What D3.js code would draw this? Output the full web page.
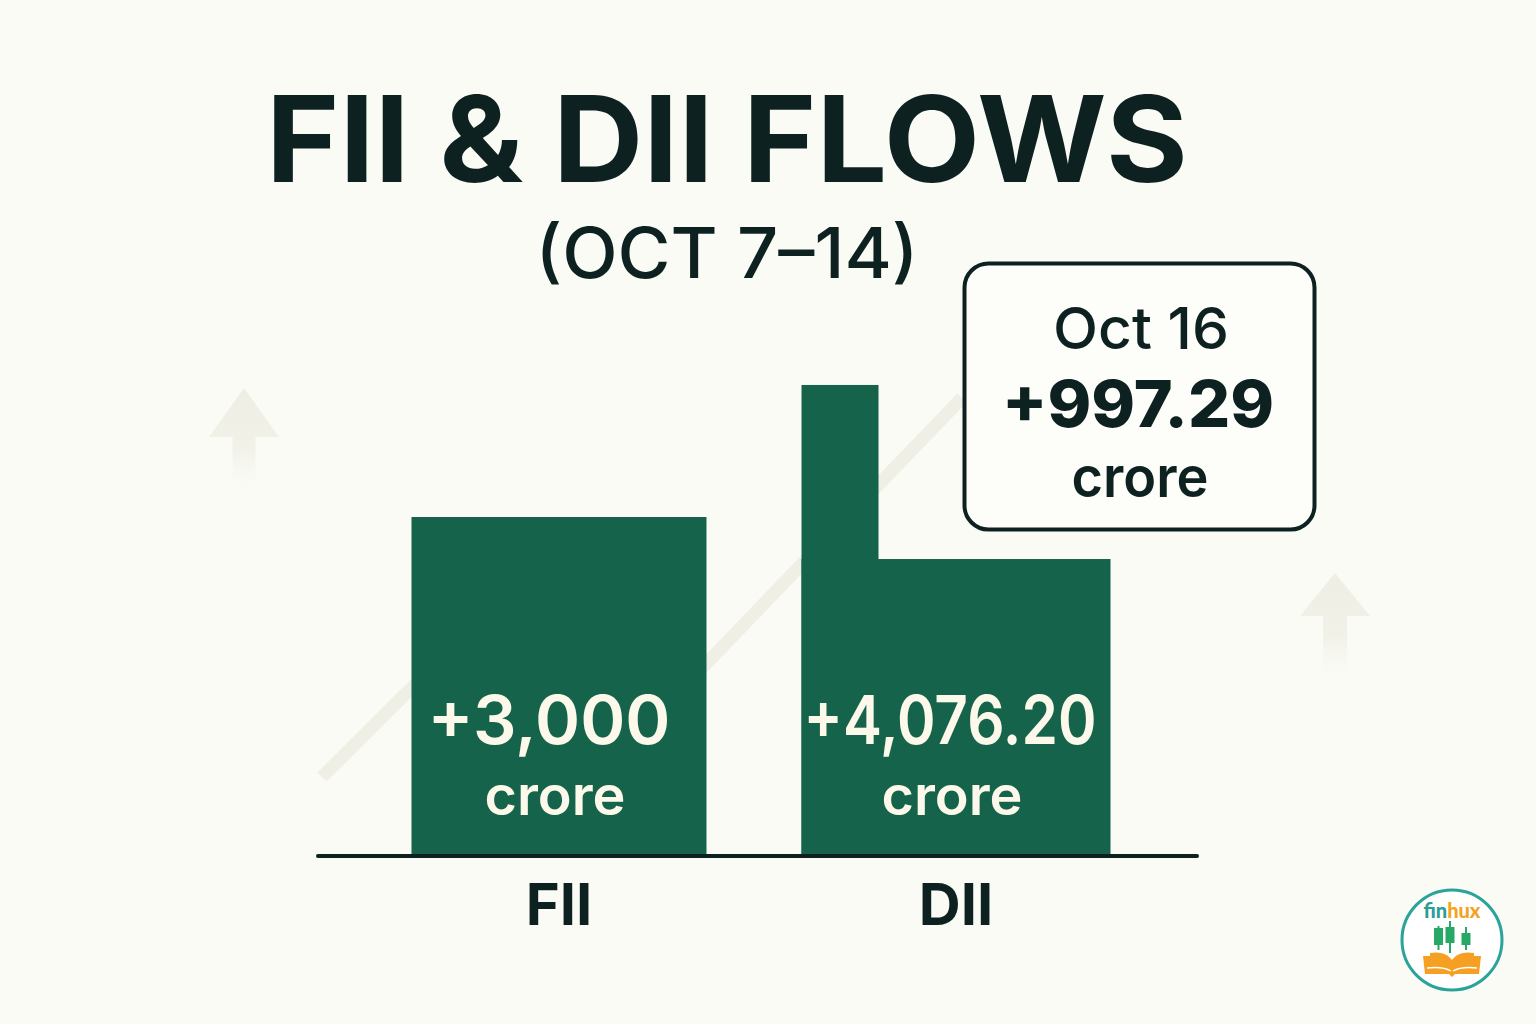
<!DOCTYPE html>
<html>
<head>
<meta charset="utf-8">
<script src="https://cdn.jsdelivr.net/npm/d3@7"></script>
<style>
  html, body { margin: 0; padding: 0; background: #fbfbf6; }
  svg { display: block; }
</style>
</head>
<body>
<script>
// ---- data ----
const categories = ["FII", "DII"];
const flowLabels = ["+3,000", "+4,076.20"];
const unitLabel = "crore";
// bar heights as drawn (crore)
const barValues = [3000, 2627];
// DII stepped extra column top (crore, estimated)
const diiPeakValue = 4172;
const calloutDate = "Oct 16";
const calloutValue = "+997.29";
const titleText = "FII & DII FLOWS";
const subtitleText = "(OCT 7–14)";

const W = 1536, H = 1024;
const svg = d3.select("body").append("svg").attr("width", W).attr("height", H);
const defs = svg.append("defs");

svg.append("rect").attr("width", W).attr("height", H).attr("fill", "#fbfbf6");

const ink = "#0d2220";
const green = "#15634a";
const cream = "#fcf8ea";

// ---- scales ----
const x = d3.scaleBand().domain(categories).range([318, 1197]).paddingInner(0.239).paddingOuter(0.2265);
const y = d3.scaleLinear().domain([0, 3000]).range([855, 517]);
const barW = { FII: 295, DII: 309 };
const cx = c => x(c) + x.bandwidth() / 2;

// ---- decorative background ----
const grad = defs.append("linearGradient").attr("id", "fade").attr("x1", 0).attr("y1", 0).attr("x2", 0).attr("y2", 1);
grad.append("stop").attr("offset", "0%").attr("stop-color", "#eeeee4").attr("stop-opacity", 1);
grad.append("stop").attr("offset", "55%").attr("stop-color", "#f0f0e7").attr("stop-opacity", 0.9);
grad.append("stop").attr("offset", "100%").attr("stop-color", "#fbfbf6").attr("stop-opacity", 0);

svg.append("path")
  .attr("d", d3.line()([[322, 777], [520, 580], [650, 722], [962, 398]]))
  .attr("fill", "none").attr("stroke", "#efefe6").attr("stroke-width", 13).attr("stroke-linejoin", "round");

function arrow(tipX, tipY, headW, headH, shaftW, len) {
  const p = d3.path();
  p.moveTo(tipX, tipY);
  p.lineTo(tipX + headW / 2, tipY + headH);
  p.lineTo(tipX + shaftW / 2, tipY + headH);
  p.lineTo(tipX + shaftW / 2, tipY + len);
  p.lineTo(tipX - shaftW / 2, tipY + len);
  p.lineTo(tipX - shaftW / 2, tipY + headH);
  p.lineTo(tipX - headW / 2, tipY + headH);
  p.closePath();
  svg.append("path").attr("d", p.toString()).attr("fill", "url(#fade)");
}
arrow(244, 388, 70, 49, 23, 110);
arrow(1335, 573, 70, 43, 24, 115);

// ---- title ----
svg.append("text").attr("x", 727).attr("y", 182).attr("text-anchor", "middle")
  .attr("font-family", "Inter").attr("font-weight", 700).attr("font-size", 120)
  .attr("fill", ink).attr("textLength", 922).attr("lengthAdjust", "spacingAndGlyphs").text(titleText);
svg.append("text").attr("x", 727).attr("y", 278).attr("text-anchor", "middle")
  .attr("font-family", "Inter").attr("font-weight", 500).attr("font-size", 70)
  .attr("fill", ink).attr("textLength", 383).attr("lengthAdjust", "spacingAndGlyphs").text(subtitleText);

// ---- bars ----
const g = svg.append("g");
g.selectAll("rect.bar").data(categories).join("rect").attr("class", "bar")
  .attr("x", c => cx(c) - barW[c] / 2)
  .attr("width", c => barW[c])
  .attr("y", (c, i) => y(barValues[i]))
  .attr("height", (c, i) => y(0) - y(barValues[i]))
  .attr("fill", green);

// DII stepped column
g.append("rect")
  .attr("x", cx("DII") - barW.DII / 2)
  .attr("width", 77)
  .attr("y", y(diiPeakValue))
  .attr("height", y(0) - y(diiPeakValue))
  .attr("fill", green);

// value labels in bars
g.selectAll("text.val").data(categories).join("text").attr("class", "val")
  .attr("x", c => cx(c) - 6 + (c === "DII" ? 0 : -4)).attr("y", 744).attr("text-anchor", "middle")
  .attr("font-family", "Inter").attr("font-weight", 600).attr("font-size", 67)
  .attr("fill", cream)
  .attr("textLength", (c, i) => i === 0 ? 243 : 293).attr("lengthAdjust", "spacingAndGlyphs")
  .text((c, i) => flowLabels[i]);
g.selectAll("text.unit").data(categories).join("text").attr("class", "unit")
  .attr("x", c => cx(c) - 4).attr("y", 815).attr("text-anchor", "middle")
  .attr("font-family", "Inter").attr("font-weight", 600).attr("font-size", 54)
  .attr("fill", cream).attr("textLength", 141).attr("lengthAdjust", "spacingAndGlyphs")
  .text(unitLabel);

// baseline
svg.append("line").attr("x1", 318).attr("x2", 1197).attr("y1", y(0) + 1).attr("y2", y(0) + 1)
  .attr("stroke", ink).attr("stroke-width", 4).attr("stroke-linecap", "round");

// category labels
svg.selectAll("text.cat").data(categories).join("text").attr("class", "cat")
  .attr("x", c => cx(c)).attr("y", 925).attr("text-anchor", "middle")
  .attr("font-family", "Inter").attr("font-weight", 700).attr("font-size", 58)
  .attr("fill", ink).text(c => c);

// ---- callout ----
svg.append("rect").attr("x", 964.5).attr("y", 263.5).attr("width", 350).attr("height", 266).attr("rx", 24)
  .attr("fill", "#fdfdf9").attr("stroke", ink).attr("stroke-width", 4);
svg.append("text").attr("x", 1141).attr("y", 349).attr("text-anchor", "middle")
  .attr("font-family", "Inter").attr("font-weight", 500).attr("font-size", 58)
  .attr("fill", ink).attr("textLength", 176).attr("lengthAdjust", "spacingAndGlyphs").text(calloutDate);
svg.append("text").attr("x", 1138).attr("y", 427).attr("text-anchor", "middle")
  .attr("font-family", "Inter").attr("font-weight", 800).attr("font-size", 64)
  .attr("fill", ink).attr("textLength", 272).attr("lengthAdjust", "spacingAndGlyphs").text(calloutValue);
svg.append("text").attr("x", 1140).attr("y", 497).attr("text-anchor", "middle")
  .attr("font-family", "Inter").attr("font-weight", 600).attr("font-size", 56)
  .attr("fill", ink).attr("textLength", 137).attr("lengthAdjust", "spacingAndGlyphs").text(unitLabel);

// ---- logo ----
const logo = svg.append("g").attr("transform", "translate(1452,940)");
logo.append("circle").attr("r", 50).attr("fill", "#ffffff").attr("stroke", "#2aa39b").attr("stroke-width", 3);
const lt = logo.append("text").attr("x", 0).attr("y", -22).attr("text-anchor", "middle")
  .attr("font-family", "Lato").attr("font-weight", 900).attr("font-size", 21)
  .attr("textLength", 57).attr("lengthAdjust", "spacingAndGlyphs");
lt.append("tspan").attr("fill", "#2a9d96").text("fin");
lt.append("tspan").attr("fill", "#f4a321").text("hux");
// [centerX, bodyTop, bodyBottom, wickTop, wickBottom]
const candles = [[-13.5, -12, 5, -14, 10], [-2, -13, 3, -19, 13], [14, -7, 5, -13, 10]];
candles.forEach(([cxp, bt, bb, wt, wb]) => {
  logo.append("line").attr("x1", cxp).attr("x2", cxp).attr("y1", wt).attr("y2", wb)
    .attr("stroke", "#27a866").attr("stroke-width", 2);
  logo.append("rect").attr("x", cxp - 4.5).attr("y", bt).attr("width", 9).attr("height", bb - bt)
    .attr("fill", "#27a866");
});
logo.append("path").attr("d", "M-29,16 L-27,34 L-3,34 L0,37 L3,34 L27,34 L29,16 L22,16 L22,13 C12,11 4,14 0,20 C-4,14 -12,11 -22,13 L-22,16 Z")
  .attr("fill", "#f6a023");
logo.append("path").attr("d", "M-25,28 C-16,27 -6,28 -1,31 M1,31 C6,28 16,27 25,28").attr("stroke", "#fff").attr("stroke-width", 1.4).attr("fill", "none");
</script>
</body>
</html>
